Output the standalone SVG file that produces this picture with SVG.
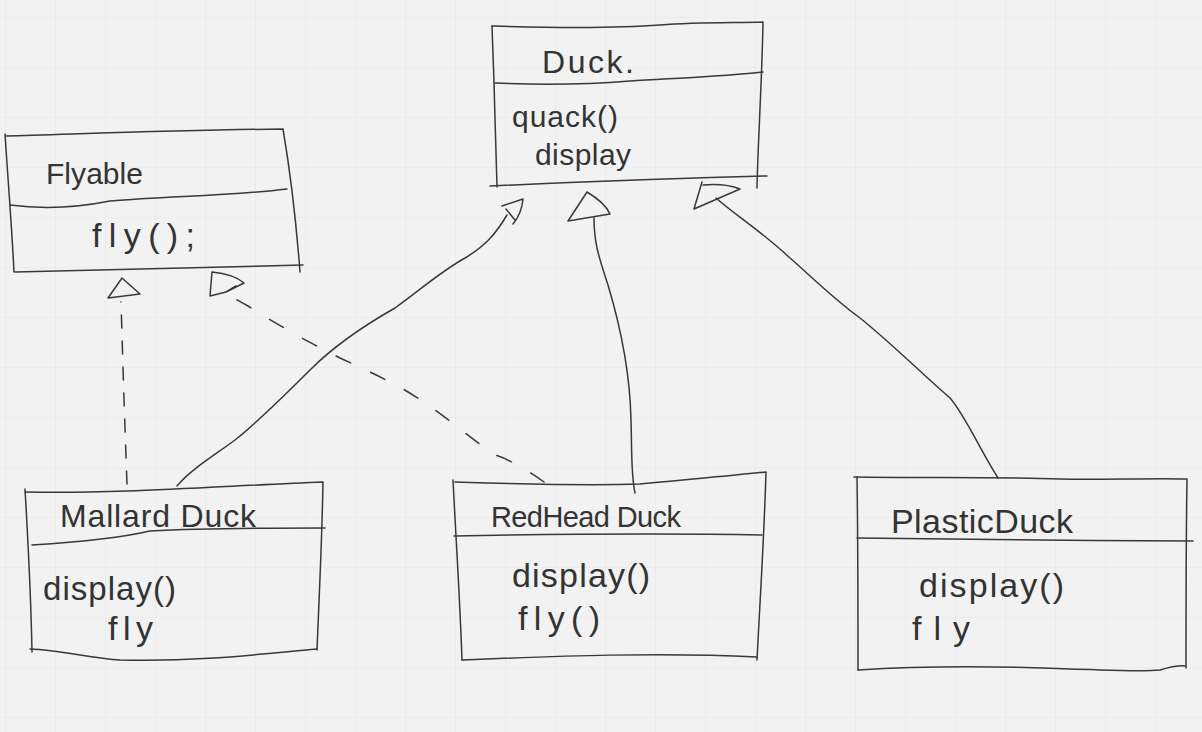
<svg xmlns="http://www.w3.org/2000/svg" width="1202" height="732" viewBox="0 0 1202 732">
<defs>
<pattern id="grid" x="5" y="17" width="50" height="50" patternUnits="userSpaceOnUse">
<path d="M0 0 H50 M0 0 V50" fill="none" stroke="#e6e6e6" stroke-width="1.2"/>
</pattern>
</defs>
<style>
.ln{fill:none;stroke:#383838;stroke-width:1.5;stroke-linecap:round;stroke-linejoin:round}
.dash{stroke-dasharray:13 13}
.dash2{stroke-dasharray:16 22}
.t{font-family:"Liberation Sans",Arial,sans-serif;font-size:30px;fill:#333}
</style>
<rect width="1202" height="732" fill="#f2f2f2"/>
<rect width="1202" height="732" fill="url(#grid)"/>

<g id="connectors">
<path class="ln dash" d="M127 484 L124 400 L121 302"/>
<path class="ln" d="M108 298 L122 278 L140 294 Z"/>
<path class="ln dash2" d="M544 482 C520 465 505 458 495 455 C470 438 450 420 428 405 C400 385 370 372 340 358 C300 338 270 320 248 306 C238 300 230 297 225 292"/>
<path class="ln" d="M212 272 L210 296 L226 292 L244 283 C236 276 222 273 212 272 M226 292 L236 286"/>
<path class="ln" d="M177 486 C190 470 215 455 235 440 C260 420 285 395 310 370 C335 345 365 325 395 308 C420 290 440 272 465 258 C485 246 495 235 507 215"/>
<path class="ln" d="M502 206 L523 199 C522 210 518 218 513 224 M506 209 L515 220"/>
<path class="ln" d="M594 218 C594 245 600 260 608 285 C620 325 630 370 631 420 C632 455 631 475 635 493"/>
<path class="ln" d="M568 221 L587 192 C597 198 606 205 610 214 Z"/>
<path class="ln" d="M716 198 C735 215 760 230 790 258 C815 280 835 300 860 318 C890 342 920 372 950 398 C965 415 980 450 998 478"/>
<path class="ln" d="M702 182 L694 209 L740 189 C730 185 715 184 703 185"/>
</g>

<g id="flyable">
<path class="ln" d="M6 136 C80 134 180 130 283 129 C290 170 296 220 300 272"/>
<path class="ln" d="M5 134 C8 180 12 230 14 272"/>
<path class="ln" d="M15 272 C100 270 200 268 303 265"/>
<path class="ln" d="M10 205 C40 209 70 209 110 201 C170 196 230 196 287 189"/>
<text class="t" x="46" y="184" textLength="97" lengthAdjust="spacing">Flyable</text>
<text class="t" x="92" y="247" style="font-size:34px" textLength="103" lengthAdjust="spacing">fly();</text>
</g>

<g id="duck">
<path class="ln" d="M492 26 C560 28 620 28 660 25 C700 22 740 23 763 22 C762 80 758 140 757 188"/>
<path class="ln" d="M492 26 C494 80 496 140 497 187"/>
<path class="ln" d="M490 186 C580 182 680 178 767 176"/>
<path class="ln" d="M495 83 C540 85 580 85 630 81 C680 78 730 76 763 72"/>
<text class="t" x="542" y="73" style="font-size:32px" textLength="92" lengthAdjust="spacing">Duck.</text>
<text class="t" x="512" y="127" textLength="106" lengthAdjust="spacing">quack()</text>
<text class="t" x="535" y="165" textLength="96" lengthAdjust="spacing">display</text>
</g>

<g id="mallard">
<path class="ln" d="M25 492 C120 494 220 486 323 482 C322 540 319 600 317 650"/>
<path class="ln" d="M25 489 C28 540 31 600 32 652"/>
<path class="ln" d="M30 649 C60 650 90 658 120 660 C200 662 260 654 317 649"/>
<path class="ln" d="M32 545 C80 542 120 538 150 531 C210 528 270 528 325 528"/>
<text class="t" x="60" y="527" style="font-size:32px" textLength="196" lengthAdjust="spacing">Mallard Duck</text>
<text class="t" x="43" y="600" style="font-size:33px" textLength="133" lengthAdjust="spacing">display()</text>
<text class="t" x="108" y="640" style="font-size:34px" textLength="45" lengthAdjust="spacing">fly</text>
</g>

<g id="redhead">
<path class="ln" d="M455 482 C520 484 580 486 640 484 C690 480 730 475 766 472 C764 540 760 600 757 660"/>
<path class="ln" d="M453 480 C456 540 460 600 462 660"/>
<path class="ln" d="M462 660 C560 656 660 652 757 657"/>
<path class="ln" d="M454 536 C560 534 660 533 762 535"/>
<text class="t" x="491" y="527" style="font-size:29px" textLength="190" lengthAdjust="spacing">RedHead Duck</text>
<text class="t" x="512" y="587" style="font-size:34px" textLength="138" lengthAdjust="spacing">display()</text>
<text class="t" x="518" y="630" style="font-size:34px" textLength="82" lengthAdjust="spacing">fly()</text>
</g>

<g id="plastic">
<path class="ln" d="M854 477 C920 478 1000 477 1060 479 C1100 480 1150 478 1187 479 C1186 540 1186 610 1186 668"/>
<path class="ln" d="M857 477 C858 540 858 610 858 670"/>
<path class="ln" d="M858 670 C920 666 1000 666 1070 669 C1110 670 1140 672 1160 670 C1170 667 1178 665 1185 666"/>
<path class="ln" d="M857 538 C960 539 1080 541 1193 541"/>
<text class="t" x="891" y="533" style="font-size:34px" textLength="182" lengthAdjust="spacing">PlasticDuck</text>
<text class="t" x="919" y="597" style="font-size:34px" textLength="145" lengthAdjust="spacing">display()</text>
<text class="t" x="912" y="640" style="font-size:34px" textLength="58" lengthAdjust="spacing">fly</text>
</g>
</svg>
